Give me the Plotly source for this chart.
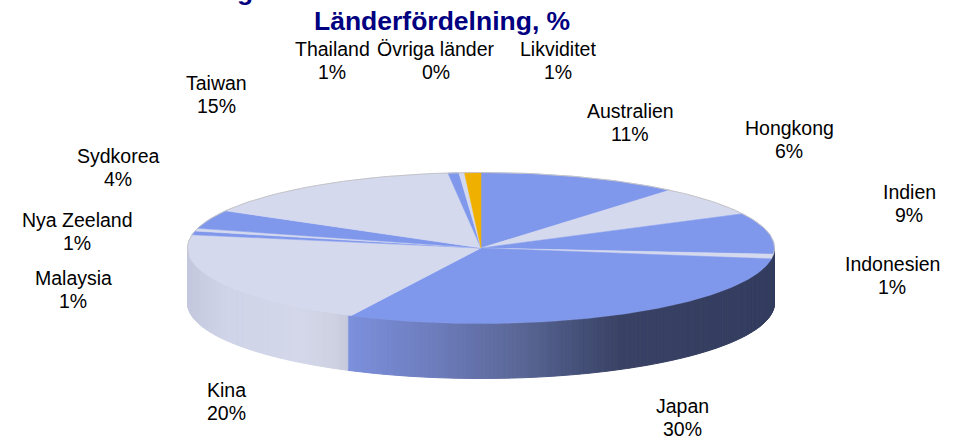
import numpy as np
import plotly.graph_objects as go

labels = ['Australien', 'Hongkong', 'Indien', 'Indonesien', 'Japan', 'Kina', 'Malaysia',
          'Nya Zeeland', 'Sydkorea', 'Taiwan', 'Thailand', 'Övriga länder', 'Likviditet']
values = [11.1, 6.4, 8.8, 1.0, 30.0, 20.5, 0.8, 0.6, 4.0, 15.0, 0.6, 0.3, 0.9]

# blue / light alternating like the original, last one is the cash slice
slice_colors = ['#8098ec', '#d4d9ee', '#8098ec', '#d4d9ee', '#8098ec', '#d4d9ee', '#8098ec',
                '#d4d9ee', '#8098ec', '#d4d9ee', '#8098ec', '#d4d9ee', '#f0b000']

# label centres in page pixels
label_x = [630, 789, 909, 892, 682, 226, 73, 77, 118, 216, 332, 436, 558]
label_y = [122, 139, 203, 275, 417, 401, 289, 231, 167, 94, 60, 60, 60]

# pie geometry in page pixels
cx, cy = 481, 248
rx, ry = 293.5, 75.5
depth = 55

# shading of the rim, by x position
blue_x = [350, 430, 520, 570, 620, 774]
blue_rgb = [(124, 144, 220), (110, 125, 190), (90, 103, 150), (72, 84, 125), (58, 66, 101), (51, 61, 95)]
light_x = [187, 225, 300, 335, 350]
light_rgb = [(197, 201, 222), (208, 212, 232), (212, 216, 234), (205, 209, 226), (196, 200, 218)]


def ellipse(theta):
    # theta in degrees, clockwise from the top
    t = np.radians(theta)
    return cx + rx * np.sin(t), cy - ry * np.cos(t)


def rim_color(x, ramp_x, ramp_rgb):
    r = [np.interp(x, ramp_x, [c[i] for c in ramp_rgb]) for i in range(3)]
    return 'rgb(%d,%d,%d)' % tuple(r)


fig = go.Figure()

edges = np.cumsum([0] + values) / sum(values) * 360
japan_end = edges[labels.index('Japan') + 1]

# rim first, thin vertical strips so it can carry a gradient
steps = np.arange(90, 270, 0.75)
for a in steps:
    xs, ys = ellipse(np.array([a, a + 0.75]))
    mid = (xs[0] + xs[1]) / 2
    if a < japan_end:
        col = rim_color(mid, blue_x, blue_rgb)
    else:
        col = rim_color(mid, light_x, light_rgb)
    fig.add_trace(go.Scatter(
        x=[xs[0], xs[1], xs[1], xs[0], xs[0]],
        y=[ys[0], ys[1], ys[1] + depth, ys[0] + depth, ys[0]],
        mode='lines', fill='toself', fillcolor=col,
        line=dict(color=col, width=1), hoverinfo='skip', showlegend=False
    ))

# top face
for i, name in enumerate(labels):
    arc = np.linspace(edges[i], edges[i + 1], max(int(values[i] * 6), 3))
    xs, ys = ellipse(arc)
    fig.add_trace(go.Scatter(
        x=[cx] + list(xs) + [cx],
        y=[cy] + list(ys) + [cy],
        mode='lines', fill='toself', fillcolor=slice_colors[i],
        line=dict(color=slice_colors[i], width=0.5),
        name=name, text=f'{name} {values[i]:.0f}%', hoverinfo='text', showlegend=False
    ))

# thin grey line along the back edge
xs, ys = ellipse(np.linspace(-95, 95, 160))
fig.add_trace(go.Scatter(x=xs, y=ys, mode='lines', line=dict(color='#c4c4c8', width=1),
                         hoverinfo='skip', showlegend=False))

# two annotations per label, the line gap is tighter than plotly's <br>
for name, v, lx, ly in zip(labels, values, label_x, label_y):
    fig.add_annotation(x=lx, y=ly - 11.5, text=name, showarrow=False,
                       font=dict(family='Liberation Sans, Arial', size=19.5, color='#000000'))
    fig.add_annotation(x=lx, y=ly + 11.5, text=f'{v:.0f}%', showarrow=False,
                       font=dict(family='Liberation Sans, Arial', size=19.5, color='#000000'))

fig.add_annotation(x=442, y=21, text='<b>Länderfördelning, %</b>', showarrow=False,
                   font=dict(family='Liberation Sans, Arial', size=26.5, color='#000080'))

# the reference crops a heading line above the title, only a "g" tail shows
fig.add_annotation(x=245, y=7, yanchor='bottom', borderpad=0, text='<b>g</b>', showarrow=False,
                   font=dict(family='Liberation Sans, Arial', size=26.5, color='#000080'))

fig.update_layout(
    width=955, height=440,
    margin=dict(l=0, r=0, t=0, b=0),
    paper_bgcolor='white', plot_bgcolor='white',
    xaxis=dict(range=[0, 955], visible=False, fixedrange=True),
    yaxis=dict(range=[440, 0], visible=False, fixedrange=True),
    showlegend=False
)

# drop the 8px body margin so the page pixels line up with the axes
fig.write_html("out.html", config={'displayModeBar': False},
               post_script="document.body.style.margin='0';")
